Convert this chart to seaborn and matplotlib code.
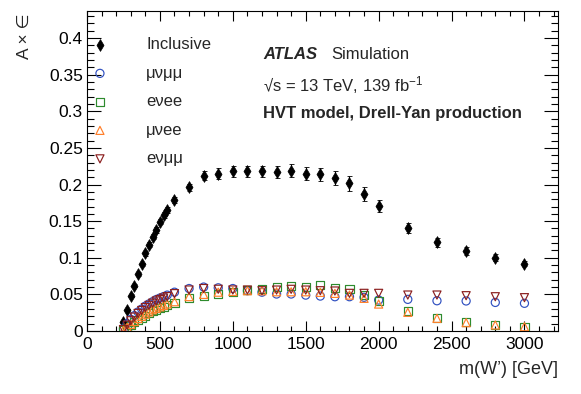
import matplotlib
matplotlib.use("Agg")
import numpy as np
import pandas as pd
import matplotlib.pyplot as plt
import seaborn as sns
from matplotlib.ticker import MultipleLocator, FuncFormatter

# W' mass points [GeV]
mass = [250, 275, 300, 325, 350, 375, 400, 425, 450, 475, 500, 525, 550, 600,
        700, 800, 900, 1000, 1100, 1200, 1300, 1400, 1500, 1600, 1700, 1800,
        1900, 2000, 2200, 2400, 2600, 2800, 3000]

inclusive = [0.012, 0.028, 0.048, 0.062, 0.078, 0.091, 0.106, 0.118, 0.129, 0.138,
             0.149, 0.158, 0.165, 0.179, 0.196, 0.212, 0.215, 0.218, 0.218, 0.218,
             0.217, 0.219, 0.215, 0.214, 0.209, 0.2015, 0.187, 0.171, 0.141, 0.121,
             0.1095, 0.100, 0.092]
inclusive_err = [0.001, 0.0015, 0.002, 0.002, 0.0025, 0.0025, 0.003, 0.003, 0.003, 0.0035,
                 0.0035, 0.004, 0.004, 0.0045, 0.005, 0.006, 0.007, 0.008, 0.008, 0.008,
                 0.008, 0.009, 0.009, 0.009, 0.009, 0.010, 0.0095, 0.0085, 0.007, 0.006,
                 0.0055, 0.0048, 0.003]

mununumu = [0.003, 0.010, 0.016, 0.021, 0.026, 0.030, 0.034, 0.037, 0.040, 0.043,
            0.045, 0.047, 0.049, 0.053, 0.058, 0.060, 0.059, 0.058, 0.055, 0.053,
            0.0505, 0.0505, 0.049, 0.0477, 0.0468, 0.0468, 0.046, 0.0423, 0.0432, 0.0413,
            0.041, 0.039, 0.0378]
enuee = [0.001, 0.004, 0.008, 0.012, 0.015, 0.018, 0.021, 0.024, 0.027, 0.029,
         0.031, 0.033, 0.035, 0.038, 0.045, 0.048, 0.051, 0.053, 0.056, 0.057,
         0.0596, 0.0618, 0.0605, 0.0628, 0.059, 0.0569, 0.0491, 0.0413, 0.0273, 0.0182,
         0.0118, 0.0082, 0.0059]
munuee = [0.001, 0.005, 0.009, 0.013, 0.017, 0.020, 0.023, 0.026, 0.029, 0.031,
          0.033, 0.035, 0.037, 0.040, 0.047, 0.050, 0.053, 0.054, 0.055, 0.055,
          0.0536, 0.0536, 0.0536, 0.0528, 0.0514, 0.0491, 0.0446, 0.0368, 0.0255, 0.0173,
          0.0114, 0.0082, 0.0059]
enumumu = [0.002, 0.008, 0.014, 0.019, 0.024, 0.028, 0.032, 0.035, 0.038, 0.041,
           0.043, 0.045, 0.047, 0.051, 0.056, 0.058, 0.057, 0.056, 0.056, 0.055,
           0.0559, 0.0569, 0.0559, 0.055, 0.0546, 0.0514, 0.0514, 0.0514, 0.0491, 0.0491,
           0.0482, 0.0468, 0.0455]

channels = [
    ("μνμμ", mununumu, "o", "#3050c0"),
    ("eνee", enuee, "s", "#2e8b2e"),
    ("μνee", munuee, "^", "#ff7f2a"),
    ("eνμμ", enumumu, "v", "#8b1f1f"),
]

sns.set_style("ticks")
plt.rcParams["font.family"] = ["Liberation Sans", "DejaVu Sans"]
plt.rcParams["mathtext.fontset"] = "custom"
plt.rcParams["mathtext.rm"] = "Liberation Sans"
plt.rcParams["mathtext.it"] = "Liberation Sans:italic"
plt.rcParams["mathtext.bf"] = "Liberation Sans:bold"

fig = plt.figure(figsize=(5.81, 3.94), dpi=100)
ax = fig.add_axes([87 / 581, 63 / 394, 471 / 581, 320 / 394])

incl_df = pd.DataFrame({"mass": mass, "eff": inclusive, "err": inclusive_err})
ax.errorbar(incl_df["mass"], incl_df["eff"], yerr=incl_df["err"], fmt="none",
            ecolor="black", elinewidth=0.8, capsize=1.8, capthick=0.6)
sns.scatterplot(data=incl_df, x="mass", y="eff", marker="d", s=36, color="black",
                edgecolor="black", linewidth=0.5, label="Inclusive", ax=ax, zorder=3)

for name, values, mk, col in channels:
    ch_df = pd.DataFrame({"mass": mass, "eff": values})
    sns.scatterplot(data=ch_df, x="mass", y="eff", marker=mk, s=34, color=col,
                    facecolors="none", edgecolor=col, linewidth=0.85, label=name,
                    ax=ax, zorder=3)

ax.set_xlim(0, 3230)
ax.set_ylim(0, 0.437)
ax.xaxis.set_major_locator(MultipleLocator(500))
ax.xaxis.set_minor_locator(MultipleLocator(100))
ax.yaxis.set_major_locator(MultipleLocator(0.05))
ax.yaxis.set_minor_locator(MultipleLocator(0.01))
ax.yaxis.set_major_formatter(FuncFormatter(lambda v, p: f"{v:g}"))

ax.tick_params(which="both", direction="in", top=True, right=True, width=0.8,
               labelsize=12.5, colors="black")
ax.tick_params(axis="x", which="major", length=7, pad=4.5)
ax.tick_params(axis="x", which="minor", length=3.3)
ax.tick_params(axis="y", which="major", length=10, pad=3)
ax.tick_params(axis="y", which="minor", length=5)
for sp in ax.spines.values():
    sp.set_linewidth(0.8)
    sp.set_color("black")

ax.set_xlabel("m(W’) [GeV]", fontsize=13, ha="right")
ax.xaxis.set_label_coords(1.0, -0.094)
ax.set_ylabel("A × ∈", fontsize=12.5, ha="right")
ax.yaxis.set_label_coords(-0.117, 0.994)

ax.legend(loc="upper left", bbox_to_anchor=(0.0098, 0.918), frameon=False,
          fontsize=12, handlelength=1.0, handletextpad=2.27, labelspacing=0.81,
          borderpad=0, borderaxespad=0, scatterpoints=1)

ax.text(0.374, 0.863, "ATLAS", transform=ax.transAxes, fontsize=12,
        weight="bold", style="italic", va="center")
ax.text(0.518, 0.863, "Simulation", transform=ax.transAxes, fontsize=12, va="center")
ax.text(0.374, 0.770, "√s = 13 TeV, 139 fb$^{-1}$", transform=ax.transAxes,
        fontsize=12, va="center")
ax.text(0.374, 0.679, "HVT model, Drell-Yan production", transform=ax.transAxes,
        fontsize=12, weight="bold", va="center")

fig.savefig("out.png", dpi=100)
